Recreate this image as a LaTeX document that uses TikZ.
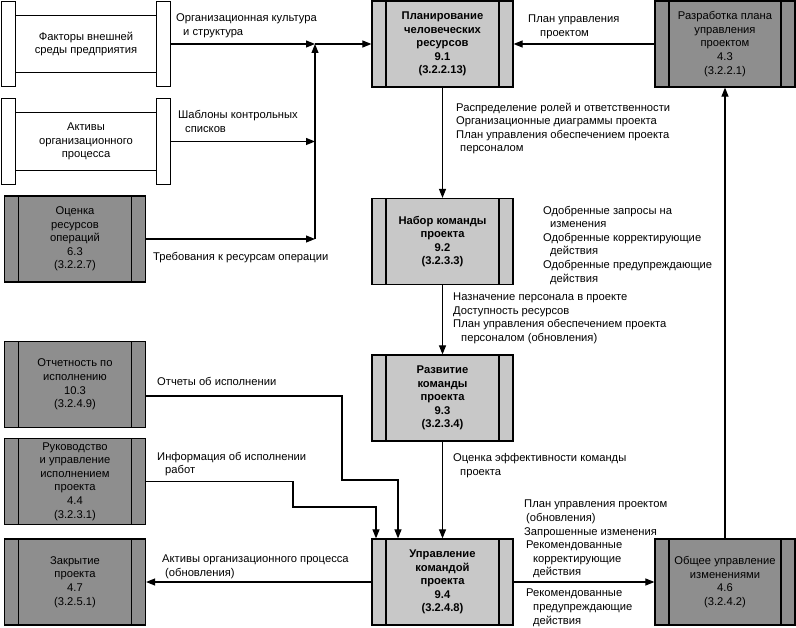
\documentclass[tikz,border=0pt]{standalone}
\usepackage{fontspec}
\setmainfont{Liberation Sans}
\usetikzlibrary{arrows.meta}
\definecolor{darkbox}{RGB}{142,142,142}
\definecolor{lightbox}{RGB}{200,200,200}
\tikzset{
  x=1pt,y=-1pt,
  every node/.style={font=\fontsize{11.2}{13.6}\selectfont, inner sep=0pt},
  procbox/.style={draw, line width=1.2pt, minimum width=141pt, minimum height=86pt, align=center,
    path picture={
      \draw[line width=1.2pt] ([xshift=14pt]path picture bounding box.north west) -- ([xshift=14pt]path picture bounding box.south west);
      \draw[line width=1.2pt] ([xshift=-14pt]path picture bounding box.north east) -- ([xshift=-14pt]path picture bounding box.south east);}},
  darkproc/.style={procbox, fill=darkbox},
  lightproc/.style={procbox, fill=lightbox, font=\fontsize{11.2}{13.6}\selectfont\bfseries},
  extbox/.style={minimum width=168pt, minimum height=85pt, align=center},
  extline/.style={line width=1.2pt},
  flow/.style={line width=1.1pt, -{Triangle[length=9pt,width=7pt]}},
  lbl/.style={anchor=north west, align=left},
}
\begin{document}
\begin{tikzpicture}
\useasboundingbox (0,0) rectangle (796,628);

% external (white) entities
\node[extbox] (e1) at (86,44) {Факторы внешней\\среды предприятия};
\node[extbox] (e2) at (86,141.5) {Активы\\организационного\\процесса};
\foreach \e in {e1,e2}{
  \draw[extline, fill=white] (\e.north west) rectangle ([xshift=14pt]\e.south west);
  \draw[extline, fill=white] ([xshift=-14pt]\e.north east) rectangle (\e.south east);
  \draw[extline] ([xshift=14pt,yshift=-14pt]\e.north west) -- ([xshift=-14pt,yshift=-14pt]\e.north east);
  \draw[extline] ([xshift=14pt,yshift=14pt]\e.south west) -- ([xshift=-14pt,yshift=14pt]\e.south east);
}

% process boxes
\node[darkproc] (a63) at (75,239) {Оценка\\ресурсов\\операций\\6.3\\(3.2.2.7)};
\node[darkproc] (a103) at (75,384.5) {Отчетность по\\исполнению\\10.3\\(3.2.4.9)};
\node[darkproc] (a44) at (75,481.5) {Руководство\\и управление\\исполнением\\проекта\\4.4\\(3.2.3.1)};
\node[darkproc] (a47) at (75,582) {Закрытие\\проекта\\4.7\\(3.2.5.1)};
\node[lightproc] (p91) at (442.5,44) {Планирование\\человеческих\\ресурсов\\9.1\\(3.2.2.13)};
\node[darkproc, minimum width=140pt] (p43) at (725,44) {Разработка плана\\управления\\проектом\\4.3\\(3.2.2.1)};
\node[lightproc] (p92) at (442.5,241.5) {Набор команды\\проекта\\9.2\\(3.2.3.3)};
\node[lightproc] (p93) at (442.5,398) {Развитие\\команды\\проекта\\9.3\\(3.2.3.4)};
\node[lightproc] (p94) at (442.5,582) {Управление\\командой\\проекта\\9.4\\(3.2.4.8)};
\node[darkproc, minimum width=140pt] (p46) at (725,582) {Общее управление\\изменениями\\4.6\\(3.2.4.2)};

% connectors
\coordinate (J) at (315,44);
\coordinate (K) at (315,239);
\draw[flow] (e1.east) -- (J);
\draw[flow] (J) -- (p91.west);
\draw[flow] (e2.east) -- (e2.east -| J);
\draw[flow] (a63.east) -- (K);
\draw[flow] (K) -- (J);
\draw[flow] (p43.west) -- (p91.east);
\draw[flow] (p91.south) -- (p92.north);
\draw[flow] (p92.south) -- (p93.north);
\draw[flow] (p93.south) -- (p94.north);
\draw[flow] ([yshift=-11.5pt]a103.east) -| (342,480) -| ([xshift=-44.5pt]p94.north);
\draw[flow] (a44.east) -| (293,507) -| ([xshift=-66.5pt]p94.north);
\draw[flow] (p94.west) -- (a47.east);
\draw[flow] (p94.east) -- (p46.west);
\draw[flow] (p46.north) -- (p43.south);

% labels
\node[lbl] (l1) at (176,13.7) {Организационная культура\\\hspace*{7pt}и структура};
\node[lbl] (l2) at (178,110.2) {Шаблоны контрольных\\\hspace*{7pt}списков};
\node[lbl] (l3) at (153,251.7) {Требования к ресурсам операции};
\node[lbl] (l4) at (528,14.7) {План управления\\\hspace*{12pt}проектом};
\node[lbl] (l5) at (456,102.5) {Распределение ролей и ответственности\\Организационные диаграммы проекта\\План управления обеспечением проекта\\\hspace*{4pt}персоналом};
\node[lbl] (l6) at (543,205.7) {Одобренные запросы на\\\hspace*{7pt}изменения\\Одобренные корректирующие\\\hspace*{7pt}действия\\Одобренные предупреждающие\\\hspace*{7pt}действия};
\node[lbl] (l7) at (453,292.5) {Назначение персонала в проекте\\Доступность ресурсов\\План управления обеспечением проекта\\\hspace*{8pt}персоналом (обновления)};
\node[lbl] (l8) at (453,453.5) {Оценка эффективности команды\\\hspace*{7pt}проекта};
\node[lbl] (l9) at (157,376.7) {Отчеты об исполнении};
\node[lbl] (l10) at (157,451.7) {Информация об исполнении\\\hspace*{8pt}работ};
\node[lbl] (l11) at (162,555) {Активы организационного процесса\\\hspace*{3pt}(обновления)};
\node[lbl] (l12) at (524,500) {План управления проектом\\\hspace*{2pt}(обновления)\\Запрошенные изменения\\\hspace*{2pt}Рекомендованные\\\hspace*{9pt}корректирующие\\\hspace*{9pt}действия};
\node[lbl] (l13) at (524,589) {\hspace*{2pt}Рекомендованные\\\hspace*{9pt}предупреждающие\\\hspace*{9pt}действия};
\end{tikzpicture}
\end{document}
